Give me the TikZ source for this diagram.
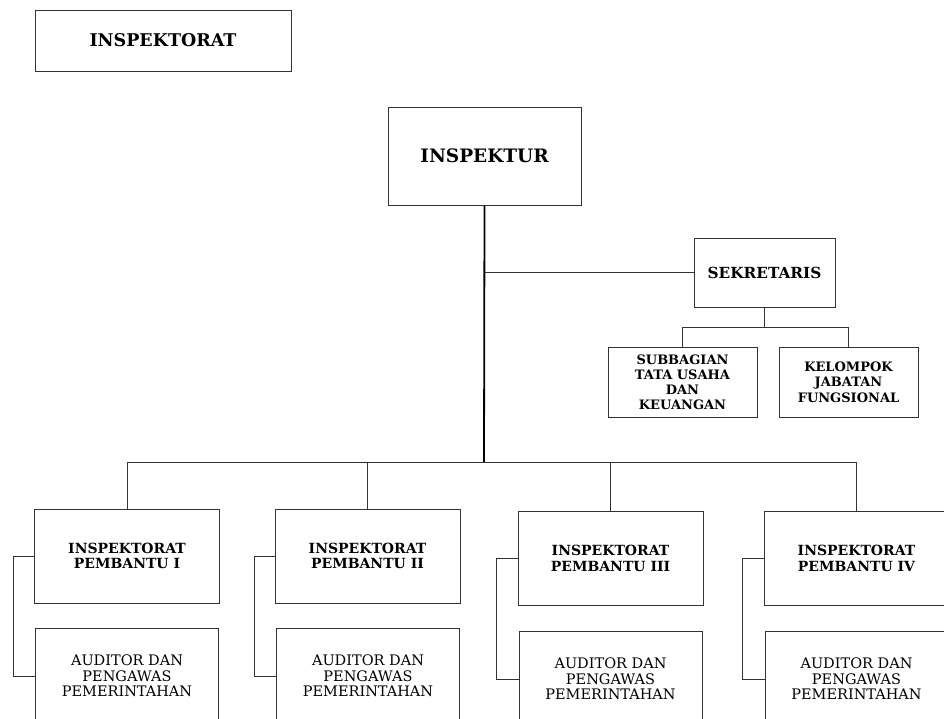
\documentclass[tikz,border=0pt]{standalone}
\usepackage{fontspec}
\setmainfont{DejaVu Serif}
\usetikzlibrary{positioning}

\begin{document}
\begin{tikzpicture}[x=1pt, y=-1pt,
    box/.style = {draw=black!80, line width=1pt, align=center, inner sep=0pt},
    head/.style = {box, font=\bfseries\fontsize{14}{15.5}\selectfont},
    staff/.style = {box, font=\fontsize{14.5}{15.7}\selectfont, minimum width=183, minimum height=96},
    unit/.style = {head, minimum width=185, minimum height=94},
    link/.style = {draw=black!80, line width=1pt}]
    \useasboundingbox (0,0) rectangle (944,718);
    \clip (0,0) rectangle (944,718);

    \node[box, minimum width=256, minimum height=61, font=\bfseries\fontsize{17.5}{20}\selectfont] (title) at (163,40.5) {INSPEKTORAT};

    \node[box, minimum width=193, minimum height=98, font=\bfseries\fontsize{18.5}{21}\selectfont] (insp) at (484.5,156) {INSPEKTUR};
    \node[box, minimum width=141, minimum height=69, font=\bfseries\fontsize{15.3}{17}\selectfont] (sek) at (764.5,272.5) {SEKRETARIS};

    \node[head, minimum width=149, minimum height=70, font=\bfseries\fontsize{13}{15}\selectfont] (sub) at (682.5,382) {SUBBAGIAN\\TATA USAHA\\DAN\\KEUANGAN};
    \node[head, minimum width=139, minimum height=70, font=\bfseries\fontsize{13}{15.5}\selectfont] (kel) at (848.5,382) {KELOMPOK\\JABATAN\\FUNGSIONAL};

    \node[unit] (p1) at (127,556) {INSPEKTORAT\\PEMBANTU I};
    \node[unit] (p2) at (367.5,556) {INSPEKTORAT\\PEMBANTU II};
    \node[unit] (p3) at (610.5,558.5) {INSPEKTORAT\\PEMBANTU III};
    \node[unit] (p4) at (856.5,558.5) {INSPEKTORAT\\PEMBANTU IV};

    \node[staff] (a1) at (127,676) {AUDITOR DAN\\PENGAWAS\\PEMERINTAHAN};
    \node[staff] (a2) at (368,676) {AUDITOR DAN\\PENGAWAS\\PEMERINTAHAN};
    \node[staff] (a3) at (610.5,679) {AUDITOR DAN\\PENGAWAS\\PEMERINTAHAN};
    \node[staff] (a4) at (856.5,679) {AUDITOR DAN\\PENGAWAS\\PEMERINTAHAN};

    \coordinate (bus) at (484,462);
    \coordinate (sekbus) at (764.5,327);

    \draw[link, line width=1.8pt, draw=black] (insp.south) -- (bus);
    \draw[link] (sek.west) -- (sek.west -| insp.south);
    \draw[link] (p1.north |- bus) -- (p4.north |- bus);
    \draw[link] (p1.north) -- (p1.north |- bus);
    \draw[link] (p2.north) -- (p2.north |- bus);
    \draw[link] (p3.north) -- (p3.north |- bus);
    \draw[link] (p4.north) -- (p4.north |- bus);

    \draw[link] (sek.south) -- (sekbus);
    \draw[link] (sub.north |- sekbus) -- (kel.north |- sekbus);
    \draw[link] (sub.north) -- (sub.north |- sekbus);
    \draw[link] (kel.north) -- (kel.north |- sekbus);

    \draw[link] (p1.west) -- ++(-21,0) |- (a1.west);
    \draw[link] (p2.west) -- ++(-20,0) |- (a2.west);
    \draw[link] (p3.west) -- ++(-21,0) |- (a3.west);
    \draw[link] (p4.west) -- ++(-21,0) |- (a4.west);

\end{tikzpicture}
\end{document}
